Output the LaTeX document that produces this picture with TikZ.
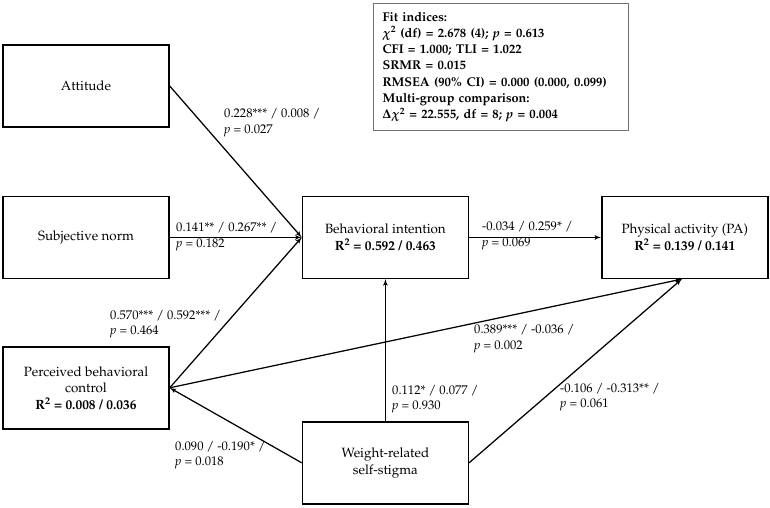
\documentclass[tikz,border=0pt]{standalone}
\usepackage[T1]{fontenc}
\usepackage{mathpazo}
\usetikzlibrary{arrows,positioning}
\tikzset{>=latex'}

\begin{document}
\begin{tikzpicture}[x=1pt,y=-1pt,>=latex']
	\tikzset{block/.style={draw, rectangle, line width=1.4pt, align=center, minimum width=166pt, minimum height=82pt, font=\fontsize{13.4}{16.5}\selectfont},
		fitbox/.style={draw=black!55, rectangle, line width=1.1pt, align=left, text width=237pt, inner xsep=9pt, minimum height=127pt, font=\fontsize{12.7}{16.3}\selectfont\bfseries\boldmath},
		coef/.style={anchor=west, align=left, inner sep=0pt, font=\fontsize{12.6}{15.5}\selectfont},
		link/.style={->, line width=1.25pt}
	}
	\useasboundingbox (0,0) rectangle (770,507);
	
	\node [block] (att) at (86,86) {Attitude};
	\node [block, below = 68pt of att] (sn) {Subjective norm};
	\node [block, below = 67pt of sn] (pbc) {Perceived behavioral\\control\\\textbf{R\textsuperscript{2} = 0.008 / 0.036}};
	\node [block, right = 132pt of sn] (bi) {Behavioral intention\\\textbf{R\textsuperscript{2} = 0.592 / 0.463}};
	\node [block, right = 132pt of bi] (pa) {Physical activity (PA)\\\textbf{R\textsuperscript{2} = 0.139 / 0.141}};
	\node [block, below = 142pt of bi] (wrss) {Weight-related\\self-stigma};
	\node [fitbox, anchor=north west] (fit) at (373,3) {Fit indices:\\
		$\chi^2$ (df) = 2.678 (4); \textit{p} = 0.613\\
		CFI = 1.000; TLI = 1.022\\
		SRMR = 0.015\\
		RMSEA (90\% CI) = 0.000 (0.000, 0.099)\\
		Multi-group comparison:\\
		$\Delta\chi^2$ = 22.555, df = 8; \textit{p} = 0.004};
	\coordinate (pain) at ([xshift=-3pt]pa.south);
	
	\draw [link] (att.east) -- (bi.west);
	\draw [link] (sn) -- (bi);
	\draw [link] (pbc.east) -- (bi.west);
	\draw [link] (bi) -- (pa);
	\draw [link] (pbc.east) -- (pain);
	\draw [link] (wrss.north) -- (bi.south);
	\draw [link] (wrss.east) -- (pain);
	\draw [link] (wrss.west) -- (pbc.east);
	
	\node [coef] (latt) at (224,122.5) {0.228*** / 0.008 /\\\textit{p} = 0.027};
	\node [coef] (lsn) at (176,236.5) {0.141** / 0.267** /\\\textit{p} = 0.182};
	\node [coef] (lbi) at (482,235.5) {-0.034 / 0.259* /\\\textit{p} = 0.069};
	\node [coef] (lpbc) at (110,324) {0.570*** / 0.592*** /\\\textit{p} = 0.464};
	\node [coef] (lpa) at (474,338.5) {0.389*** / -0.036 /\\\textit{p} = 0.002};
	\node [coef] (lwb) at (392,399) {0.112* / 0.077 /\\\textit{p} = 0.930};
	\node [coef] (lwpa) at (560,397) {-0.106 / -0.313** /\\\textit{p} = 0.061};
	\node [coef] (lwp) at (175,455) {0.090 / -0.190* /\\\textit{p} = 0.018};
\end{tikzpicture}
\end{document}
